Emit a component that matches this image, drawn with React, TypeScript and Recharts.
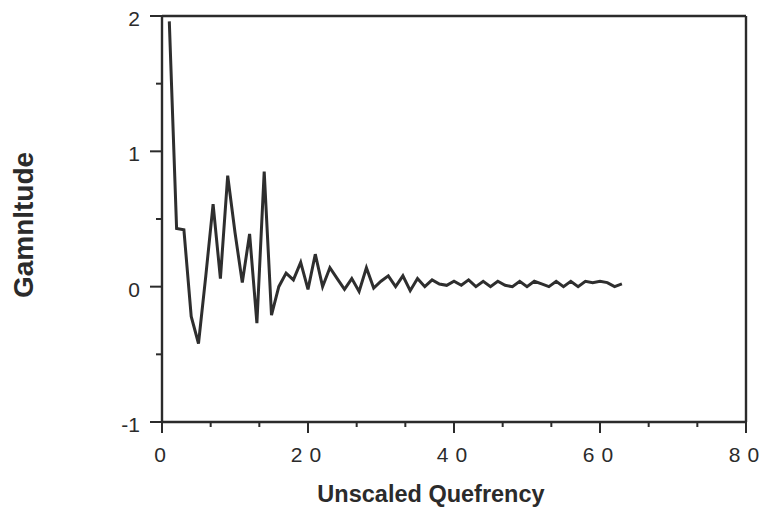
import { Label, Line, LineChart, ReferenceLine, XAxis, YAxis } from "recharts";

const quefrency = [
  1, 2, 3, 4, 5, 6, 7, 8, 9, 10, 11, 12, 13, 14, 15, 16, 17, 18, 19, 20, 21,
  22, 23, 24, 25, 26, 27, 28, 29, 30, 31, 32, 33, 34, 35, 36, 37, 38, 39, 40,
  41, 42, 43, 44, 45, 46, 47, 48, 49, 50, 51, 52, 53, 54, 55, 56, 57, 58, 59,
  60, 61, 62, 63,
];

const gamnitude = [
  1.96, 0.43, 0.42, -0.22, -0.42, 0.08, 0.61, 0.06, 0.82, 0.4, 0.03, 0.39,
  -0.27, 0.85, -0.21, 0.0, 0.1, 0.05, 0.18, -0.02, 0.24, 0.0, 0.14, 0.06,
  -0.02, 0.06, -0.035, 0.14, -0.01, 0.04, 0.08, 0.0, 0.08, -0.03, 0.06, 0.0,
  0.05, 0.02, 0.01, 0.04, 0.01, 0.05, 0.0, 0.04, 0.0, 0.04, 0.01, 0.0, 0.04,
  0.0, 0.04, 0.02, 0.0, 0.04, 0.0, 0.04, 0.0, 0.04, 0.03, 0.04, 0.03, 0.0,
  0.02,
];

const xMajorTicks = [0, 20, 40, 60, 80];
const xMinorTicks = [
  6.667, 13.333, 26.667, 33.333, 46.667, 53.333, 66.667, 73.333,
];
const yMajorTicks = [-1, 0, 1, 2];
const yMinorTicks = [-0.5, 0.5, 1.5];

const data = quefrency.map((q, i) => ({ q, g: gamnitude[i] }));

const INK = "#2b2b2b";
const FONT = "'Liberation Sans', Arial, Helvetica, sans-serif";

function XTick({ x, y, payload }: any) {
  const major = xMajorTicks.includes(payload.value);
  const chars = String(payload.value).split("");
  return (
    <g>
      <line x1={x} y1={y} x2={x} y2={y + (major ? 11 : 5)} stroke={INK} strokeWidth={2} />
      {major && (
        <text
          x={x - 2}
          y={y + 40}
          textAnchor="middle"
          fontFamily={FONT}
          fontSize={21}
          fill={INK}
        >
          {chars.map((c, i) => (
            <tspan key={i} dx={i === 0 ? 0 : 7}>
              {c}
            </tspan>
          ))}
        </text>
      )}
    </g>
  );
}

function YTick({ x, y, payload }: any) {
  const major = yMajorTicks.includes(payload.value);
  return (
    <g>
      <line x1={x} y1={y} x2={x - (major ? 12 : 6)} y2={y} stroke={INK} strokeWidth={2} />
      {major && (
        <text
          x={x - 22}
          y={y + 10}
          textAnchor="end"
          fontFamily={FONT}
          fontSize={21}
          fill={INK}
        >
          {payload.value}
        </text>
      )}
    </g>
  );
}

export default function App() {
  return (
    <div style={{ position: "absolute", left: 0, top: 0, background: "#fff" }}>
      <LineChart
        width={761}
        height={508}
        data={data}
        margin={{ top: 16, right: 15, bottom: 26, left: 82 }}
      >
        <XAxis
          dataKey="q"
          type="number"
          domain={[0, 80]}
          ticks={[...xMajorTicks, ...xMinorTicks].sort((a, b) => a - b)}
          interval={0}
          height={60}
          tickSize={0}
          tickMargin={0}
          tick={<XTick />}
          axisLine={{ stroke: INK, strokeWidth: 2.4 }}
        >
          <Label
            content={({ viewBox }: any) => (
              <text
                x={viewBox.x + viewBox.width / 2 - 23}
                y={viewBox.y + 80}
                textAnchor="middle"
                fontFamily={FONT}
                fontWeight="bold"
                fontSize={23.5}
                fill={INK}
              >
                Unscaled Quefrency
              </text>
            )}
          />
        </XAxis>
        <YAxis
          type="number"
          domain={[-1, 2]}
          ticks={[...yMajorTicks, ...yMinorTicks].sort((a, b) => a - b)}
          interval={0}
          width={80}
          tickSize={0}
          tickMargin={0}
          tick={<YTick />}
          axisLine={{ stroke: INK, strokeWidth: 2.4 }}
          allowDataOverflow
        >
          <Label
            content={({ viewBox }: any) => {
              const cx = 33;
              const cy = viewBox.y + viewBox.height / 2 + 6;
              return (
                <text
                  x={cx}
                  y={cy}
                  transform={`rotate(-90, ${cx}, ${cy})`}
                  textAnchor="middle"
                  fontFamily={FONT}
                  fontWeight="bold"
                  fontSize={28}
                  fill={INK}
                >
                  Gamnltude
                </text>
              );
            }}
          />
        </YAxis>
        <ReferenceLine y={2} stroke={INK} strokeWidth={2.4} />
        <ReferenceLine x={80} stroke={INK} strokeWidth={2.4} />
        <Line
          type="linear"
          dataKey="g"
          stroke="#2e2e2e"
          strokeWidth={3}
          dot={false}
          isAnimationActive={false}
        />
      </LineChart>
    </div>
  );
}
